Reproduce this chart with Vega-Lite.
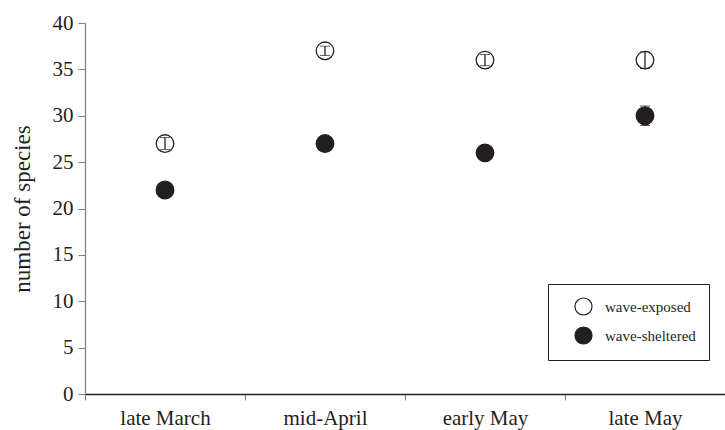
{
  "$schema": "https://vega.github.io/schema/vega-lite/v6.json",
  "width": 640,
  "height": 371,
  "autosize": "none",
  "padding": {"left": 85, "top": 23, "right": 0, "bottom": 36},
  "background": "white",
  "config": {"view": {"stroke": null}, "font": "Liberation Serif"},
  "data": {
    "values": [
      {"period": "late March", "group": "wave-exposed", "mean": 27, "lo": 26.35, "hi": 27.65},
      {"period": "mid-April", "group": "wave-exposed", "mean": 37, "lo": 36.5, "hi": 37.5},
      {"period": "early May", "group": "wave-exposed", "mean": 36, "lo": 35.4, "hi": 36.6},
      {"period": "late May", "group": "wave-exposed", "mean": 36, "lo": 35.1, "hi": 36.9},
      {"period": "late March", "group": "wave-sheltered", "mean": 22, "lo": 21.5, "hi": 22.5},
      {"period": "mid-April", "group": "wave-sheltered", "mean": 27, "lo": 26.5, "hi": 27.5},
      {"period": "early May", "group": "wave-sheltered", "mean": 26, "lo": 25.5, "hi": 26.5},
      {"period": "late May", "group": "wave-sheltered", "mean": 30, "lo": 28.95, "hi": 31.05}
    ]
  },
  "encoding": {
    "x": {
      "field": "period",
      "type": "nominal",
      "sort": ["late March", "mid-April", "early May", "late May"],
      "scale": {"paddingInner": 0, "paddingOuter": 0},
      "axis": {
        "title": null,
        "labelAngle": 0,
        "labelFont": "Liberation Serif",
        "labelFontSize": 21,
        "labelColor": "#231f20",
        "labelPadding": 7,
        "tickBand": "extent",
        "tickSize": 6,
        "tickColor": "#808080",
        "domainColor": "#231f20",
        "domainWidth": 1.3,
        "grid": false
      }
    }
  },
  "layer": [
    {
      "mark": {"type": "point", "filled": true, "shape": "circle", "size": 310, "stroke": "#231f20", "strokeWidth": 1.3, "opacity": 1},
      "encoding": {
        "y": {
          "field": "mean",
          "type": "quantitative",
          "scale": {"domain": [0, 40], "nice": false},
          "axis": {
            "title": "number of species",
            "titleFont": "Liberation Serif",
            "titleFontSize": 23,
            "titleFontWeight": "normal",
            "titleColor": "#231f20",
            "titlePadding": 18,
            "values": [0, 5, 10, 15, 20, 25, 30, 35, 40],
            "labelFont": "Liberation Serif",
            "labelFontSize": 21,
            "labelColor": "#231f20",
            "labelPadding": 5,
            "tickSize": 7,
            "tickColor": "#808080",
            "domainColor": "#808080",
            "domainWidth": 1.3,
            "grid": false
          }
        },
        "fill": {
          "field": "group",
          "type": "nominal",
          "scale": {"domain": ["wave-exposed", "wave-sheltered"], "range": ["white", "#231f20"]},
          "legend": {
            "title": null,
            "orient": "none",
            "legendX": 463,
            "legendY": 261,
            "direction": "vertical",
            "fillColor": "white",
            "strokeColor": "#231f20",
            "padding": 13,
            "symbolOffset": 13,
            "symbolType": "circle",
            "symbolSize": 290,
            "symbolStrokeColor": "#231f20",
            "symbolStrokeWidth": 1.2,
            "symbolOpacity": 1,
            "labelFont": "Liberation Serif",
            "labelFontSize": 15,
            "labelColor": "#231f20",
            "labelOffset": 12,
            "rowPadding": 6
          }
        }
      }
    },
    {
      "mark": {"type": "errorbar", "ticks": {"size": 10, "color": "#231f20"}, "rule": {"color": "#231f20", "strokeWidth": 1.3}},
      "encoding": {
        "y": {"field": "lo", "type": "quantitative", "title": "number of species"},
        "y2": {"field": "hi"}
      }
    }
  ]
}
